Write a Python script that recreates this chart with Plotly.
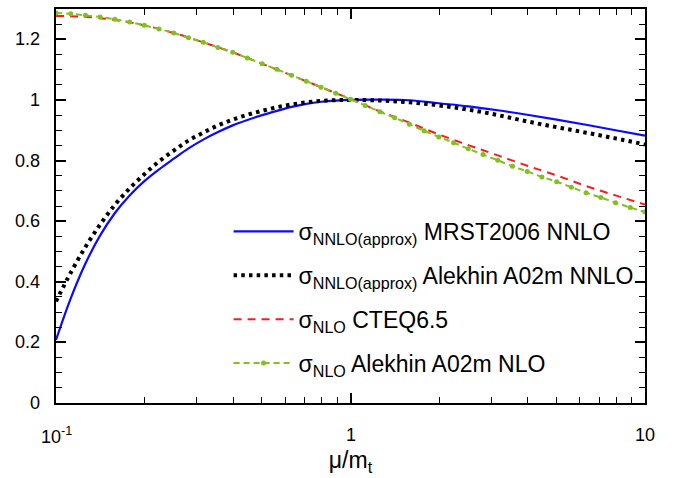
import numpy as np
import plotly.graph_objects as go

# log10(mu/m_t) grids
log_fine = [-1.00, -0.95, -0.90, -0.85, -0.80, -0.75, -0.70, -0.65, -0.60, -0.55,
            -0.50, -0.45, -0.40, -0.35, -0.30, -0.25, -0.20, -0.15, -0.10, -0.05,
            0.00, 0.10, 0.20, 0.30, 0.40, 0.50, 0.60, 0.70, 0.80, 0.90, 1.00]

mrst_nnlo = [0.208, 0.345, 0.460, 0.553, 0.627, 0.685, 0.732, 0.771, 0.806, 0.840,
             0.869, 0.894, 0.916, 0.934, 0.950, 0.964, 0.977, 0.987, 0.994, 0.998,
             1.000, 1.001, 0.999, 0.989, 0.979, 0.966, 0.951, 0.935, 0.918, 0.900, 0.882]

alekhin_nnlo = [0.335, 0.430, 0.515, 0.589, 0.654, 0.708, 0.755, 0.797, 0.833, 0.866,
                0.892, 0.916, 0.935, 0.951, 0.964, 0.976, 0.985, 0.992, 0.997, 0.999,
                1.000, 0.998, 0.992, 0.982, 0.968, 0.950, 0.929, 0.910, 0.892, 0.873, 0.853]

log_red = [-1.0, -0.9, -0.8, -0.7, -0.6, -0.5, -0.4, -0.3, -0.2, -0.1,
           0.0, 0.1, 0.2, 0.3, 0.4, 0.5, 0.6, 0.7, 0.8, 0.9, 1.0]
cteq_nlo = [1.277, 1.274, 1.264, 1.246, 1.221, 1.190, 1.157, 1.119, 1.081, 1.042,
            1.003, 0.962, 0.925, 0.886, 0.851, 0.817, 0.783, 0.751, 0.716, 0.685, 0.655]

log_green = [-1.00, -0.95, -0.90, -0.85, -0.80, -0.75, -0.70, -0.65, -0.60, -0.55,
             -0.50, -0.45, -0.40, -0.35, -0.30, -0.25, -0.20, -0.15, -0.10, -0.05,
             0.00, 0.05, 0.10, 0.15, 0.20, 0.25, 0.30, 0.35, 0.40, 0.45,
             0.50, 0.55, 0.60, 0.65, 0.70, 0.75, 0.80, 0.85, 0.90, 0.95, 1.00]
alekhin_nlo = [1.287, 1.284, 1.279, 1.274, 1.266, 1.257, 1.246, 1.234, 1.221, 1.205,
               1.190, 1.173, 1.157, 1.138, 1.119, 1.101, 1.081, 1.062, 1.042, 1.022,
               1.002, 0.982, 0.961, 0.941, 0.920, 0.898, 0.878, 0.859, 0.839, 0.820,
               0.801, 0.781, 0.764, 0.746, 0.730, 0.712, 0.694, 0.678, 0.661, 0.645, 0.630]

x_ticks = [0.1, 1, 10]
x_ticktext = ["10<sup>-1</sup>", "1", "10"]
y_ticks = [0, 0.2, 0.4, 0.6, 0.8, 1.0, 1.2]
y_ticktext = ["0", "0.2", "0.4", "0.6", "0.8", "1", "1.2"]
y_tick_step = 0.2
y_minor_step = 0.05

x_fine = [10 ** v for v in log_fine]
x_red = [10 ** v for v in log_red]
x_green = [10 ** v for v in log_green]

FONT = "Liberation Sans, Arial, Helvetica, sans-serif"

fig = go.Figure()
fig.add_trace(go.Scatter(x=x_fine, y=mrst_nnlo, mode="lines", line_shape="spline",
                         name="σ<sub>NNLO(approx)</sub> MRST2006 NNLO",
                         legendgroup="a",
                         line=dict(color="#0a0aff", width=2.2)))
fig.add_trace(go.Scatter(x=x_fine, y=alekhin_nnlo, mode="lines", line_shape="spline",
                         name="σ<sub>NNLO(approx)</sub> Alekhin A02m NNLO",
                         legendgroup="b",
                         line=dict(color="black", width=4, dash="3.5px,4.2px")))
fig.add_trace(go.Scatter(x=x_red, y=cteq_nlo, mode="lines", line_shape="spline",
                         name="σ<sub>NLO</sub> CTEQ6.5",
                         legendgroup="c",
                         line=dict(color="#ff1a1a", width=2, dash="8px,6px")))
fig.add_trace(go.Scatter(x=x_green, y=alekhin_nlo, mode="lines+markers", line_shape="spline",
                         name="σ<sub>NLO</sub> Alekhin A02m NLO",
                         legendgroup="d",
                         line=dict(color="#80c020", width=2, dash="6px,4px"),
                         marker=dict(color="#80c020", size=5)))

# tick labels placed through the axes (log axis annotations take log10 positions)
annotations = []
for v, t in zip(x_ticks, x_ticktext):
    annotations.append(dict(x=np.log10(v), xref="x", y=0, yref="paper", text=t,
                            showarrow=False, xanchor="center", yanchor="middle",
                            yshift=-32, font=dict(size=18, family=FONT, color="black")))
for v, t in zip(y_ticks, y_ticktext):
    annotations.append(dict(x=0, xref="paper", y=v, yref="y", text=t,
                            showarrow=False, xanchor="right", yanchor="middle",
                            xshift=-14, font=dict(size=18, family=FONT, color="black")))

fig.update_layout(
    width=679, height=478,
    margin=dict(l=56, r=34, t=9, b=75, autoexpand=False),
    paper_bgcolor="white", plot_bgcolor="white",
    font=dict(family=FONT, color="black", size=18),
    showlegend=True,
    legend=dict(x=0.293, y=0.49, xanchor="left", yanchor="top",
                bgcolor="rgba(0,0,0,0)", font=dict(size=23, family=FONT),
                traceorder="grouped", tracegroupgap=11, itemwidth=60),
    annotations=annotations,
)

fig.update_xaxes(
    type="log", range=[-1, 1],
    tickmode="array", tickvals=x_ticks, showticklabels=False,
    ticks="inside", ticklen=10, tickwidth=1.5, tickcolor="black",
    showline=True, linecolor="black", linewidth=2, mirror="allticks",
    showgrid=False, zeroline=False,
    minor=dict(dtick="D1", ticks="inside", ticklen=6, tickwidth=1.2,
               tickcolor="black", showgrid=False),
    title=dict(text="μ/m<sub>t</sub>", font=dict(size=23, family=FONT), standoff=48),
)
fig.update_yaxes(
    range=[0, 1.3],
    tickmode="linear", tick0=0, dtick=y_tick_step, showticklabels=False,
    ticks="inside", ticklen=10, tickwidth=1.5, tickcolor="black",
    showline=True, linecolor="black", linewidth=2, mirror="allticks",
    showgrid=False, zeroline=False,
    minor=dict(dtick=y_minor_step, tick0=0, ticks="inside", ticklen=6, tickwidth=1.2,
               tickcolor="black", showgrid=False),
)

fig.write_html("out.html", config={"displayModeBar": False},
               post_script="document.body.style.margin='0px';")
